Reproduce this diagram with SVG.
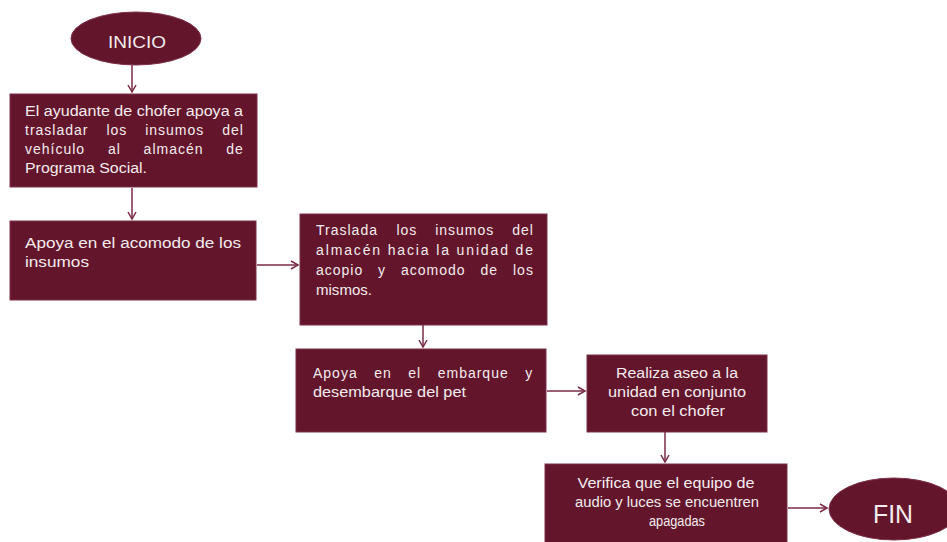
<svg xmlns="http://www.w3.org/2000/svg" width="947" height="542" viewBox="0 0 947 542">
<defs>
<style>
.box{fill:#63152b;stroke:#7d3148;stroke-width:1}
.t{font-family:"Liberation Sans",Arial,sans-serif;font-size:14px;fill:#f4ecee}
.j{letter-spacing:1px}
.c{text-anchor:middle}
.e{fill:#63152b;stroke:#7d3148;stroke-width:1}
.lnk{stroke:#7a2c44;stroke-width:1.5;fill:none}
</style>
<marker id="ah" markerWidth="10" markerHeight="10" refX="8" refY="5" orient="auto" markerUnits="userSpaceOnUse">
<path d="M1,1 L8,5 L1,9" fill="none" stroke="#7a2c44" stroke-width="1.5"/>
</marker>
</defs>
<rect width="947" height="542" fill="#ffffff"/>
<g id="connectors">
<line class="lnk" x1="132" y1="65" x2="132" y2="92" marker-end="url(#ah)"/>
<line class="lnk" x1="132" y1="188" x2="132" y2="219" marker-end="url(#ah)"/>
<line class="lnk" x1="257" y1="265" x2="298" y2="265" marker-end="url(#ah)"/>
<line class="lnk" x1="423" y1="325" x2="423" y2="347" marker-end="url(#ah)"/>
<line class="lnk" x1="547" y1="391" x2="585" y2="391" marker-end="url(#ah)"/>
<line class="lnk" x1="665" y1="432" x2="665" y2="462" marker-end="url(#ah)"/>
<line class="lnk" x1="788" y1="508" x2="827" y2="508" marker-end="url(#ah)"/>
</g>
<g id="inicio">
<ellipse class="e" cx="136" cy="38.5" rx="65" ry="26.5"/>
<text class="t c" x="137" y="48" textLength="58" lengthAdjust="spacingAndGlyphs" style="font-size:17px">INICIO</text>
</g>
<g id="n1">
<rect class="box" x="10" y="94" width="247" height="93"/>
<text class="t" x="25" y="116" textLength="218" lengthAdjust="spacingAndGlyphs">El ayudante de chofer apoya a</text>
<text class="t j" y="135"><tspan x="25">trasladar</tspan><tspan x="106.4">los</tspan><tspan x="145.2">insumos</tspan><tspan x="222.2">del</tspan></text>
<text class="t j" y="154"><tspan x="25">vehículo</tspan><tspan x="107.9">al</tspan><tspan x="143.6">almacén</tspan><tspan x="226.3">de</tspan></text>
<text class="t" x="25" y="173" textLength="122" lengthAdjust="spacingAndGlyphs">Programa Social.</text>
</g>
<g id="n2">
<rect class="box" x="10" y="221" width="246" height="79"/>
<text class="t" x="25" y="248" textLength="216" lengthAdjust="spacingAndGlyphs">Apoya en el acomodo de los</text>
<text class="t" x="25" y="267" textLength="64" lengthAdjust="spacingAndGlyphs">insumos</text>
</g>
<g id="n3">
<rect class="box" x="300" y="214" width="247" height="111"/>
<text class="t j" y="235"><tspan x="316">Traslada</tspan><tspan x="396.4">los</tspan><tspan x="435.2">insumos</tspan><tspan x="512.2">del</tspan></text>
<text class="t" x="316" y="255" textLength="217" lengthAdjust="spacing">almacén hacia la unidad de</text>
<text class="t j" y="275"><tspan x="316">acopio</tspan><tspan x="378.1">y</tspan><tspan x="401">acomodo</tspan><tspan x="480.5">de</tspan><tspan x="513">los</tspan></text>
<text class="t" x="316" y="295" textLength="56" lengthAdjust="spacingAndGlyphs">mismos.</text>
</g>
<g id="n4">
<rect class="box" x="296" y="349" width="250" height="83"/>
<text class="t j" y="378"><tspan x="313">Apoya</tspan><tspan x="374.2">en</tspan><tspan x="408.3">el</tspan><tspan x="437.7">embarque</tspan><tspan x="525.2">y</tspan></text>
<text class="t" x="313" y="397" textLength="153" lengthAdjust="spacingAndGlyphs">desembarque del pet</text>
</g>
<g id="n5">
<rect class="box" x="587" y="355" width="180" height="77"/>
<text class="t c" x="677" y="378" textLength="122" lengthAdjust="spacingAndGlyphs">Realiza aseo a la</text>
<text class="t c" x="677" y="397" textLength="138" lengthAdjust="spacingAndGlyphs">unidad en conjunto</text>
<text class="t c" x="678" y="416" textLength="94" lengthAdjust="spacingAndGlyphs">con el chofer</text>
</g>
<g id="n6">
<rect class="box" x="545" y="464" width="242" height="82"/>
<text class="t c" x="666" y="488" textLength="177" lengthAdjust="spacingAndGlyphs">Verifica que el equipo de</text>
<text class="t c" x="667" y="507" textLength="184" lengthAdjust="spacingAndGlyphs">audio y luces se encuentren</text>
<text class="t c" x="677" y="526" textLength="56" lengthAdjust="spacingAndGlyphs">apagadas</text>
</g>
<g id="fin">
<ellipse class="e" cx="894" cy="509" rx="65" ry="31"/>
<text class="t c" x="893" y="523" textLength="40" lengthAdjust="spacingAndGlyphs" style="font-size:25px">FIN</text>
</g>
</svg>
